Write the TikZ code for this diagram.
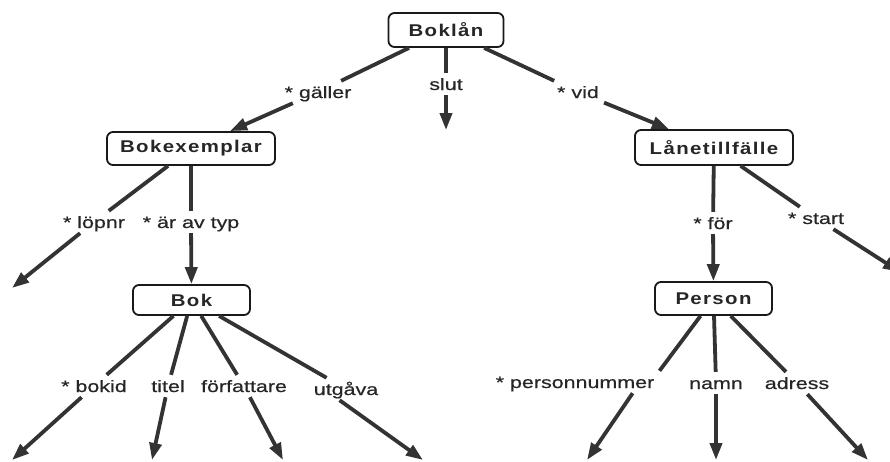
\documentclass[tikz,border=0pt]{standalone}
\usepackage{fontspec}
\setmainfont{Liberation Sans}[FakeStretch=1.3,FakeBold=0.5]
\newfontfamily\boxfont{Liberation Sans}[FakeStretch=1.2,LetterSpace=8]
\usetikzlibrary{arrows.meta}

\begin{document}
\begin{tikzpicture}[x=1pt,y=-1pt,
  entity/.style={draw=black!90, line width=1.8pt, rounded corners=6pt, fill=white,
    inner sep=0pt, text=black!85,
    font=\boxfont\bfseries\fontsize{17}{20}\selectfont},
  attr/.style={inner sep=5pt, text height=12pt, text depth=0pt, text=black!85,
    font=\fontsize{16.5}{19}\selectfont},
  link/.style={line width=3.8pt, draw=black!80},
  arrow/.style={link, -{Triangle[length=17pt,width=12pt]}},
]
\useasboundingbox (0,0) rectangle (890,461);

% entities
\node[entity, minimum width=115pt, minimum height=34pt] (boklan) at (446,30) {Boklån};
\node[entity, minimum width=168pt, minimum height=33pt] (bokex) at (191,148.5) {Bokexemplar};
\node[entity, minimum width=117pt, minimum height=30pt] (bok) at (191.5,300) {Bok};
\node[entity, minimum width=158pt, minimum height=35pt] (lane) at (714,147.5) {Lånetillfälle};
\node[entity, minimum width=117pt, minimum height=33pt] (person) at (713.5,298.5) {Person};

% attribute and relation labels
\node[attr] (gaeller) at (318,92) {* gäller};
\node[attr] (slut) at (446,84) {slut};
\node[attr] (vid) at (578,92) {* vid};
\node[attr] (lopnr) at (94,222) {* löpnr};
\node[attr] (arav) at (191,222) {* är av typ};
\node[attr] (bokid) at (94,386) {* bokid};
\node[attr] (titel) at (168,386) {titel};
\node[attr] (forf) at (244,386) {författare};
\node[attr] (utgava) at (346,389) {utgåva};
\node[attr] (for) at (713,223) {* för};
\node[attr] (start) at (816,218) {* start};
\node[attr] (pnr) at (575,382) {* personnummer};
\node[attr] (namn) at (716,383) {namn};
\node[attr] (adress) at (797,383) {adress};

% loose arrow ends
\coordinate (slutend) at (446,130);
\coordinate (lopnrend) at (12,288);
\coordinate (bokidend) at (12,460);
\coordinate (titelend) at (152,460);
\coordinate (forfend) at (283,460);
\coordinate (utgavaend) at (423,460);
\coordinate (startend) at (900,272);
\coordinate (pnrend) at (587,460);
\coordinate (namnend) at (716,460);
\coordinate (adressend) at (868,460);

% Boklån
\draw[link] (boklan) -- (gaeller);
\draw[arrow] (gaeller) -- (bokex);
\draw[link] (boklan) -- (slut);
\draw[arrow] (slut) -- (slutend);
\draw[link] (boklan) -- (vid);
\draw[arrow] (vid) -- (lane);

% Bokexemplar
\draw[link] (bokex) -- (lopnr);
\draw[arrow] (lopnr) -- (lopnrend);
\draw[link] (bokex) -- (arav);
\draw[arrow] (arav) -- (bok);

% Bok
\draw[link] (bok) -- (bokid);
\draw[arrow] (bokid) -- (bokidend);
\draw[link] (bok) -- (titel);
\draw[arrow] (titel) -- (titelend);
\draw[link] (bok) -- (forf);
\draw[arrow] (forf) -- (forfend);
\draw[link] (bok) -- (utgava);
\draw[arrow] (utgava.-120) -- (utgavaend);

% Lånetillfälle
\draw[link] (lane) -- (for);
\draw[arrow] (for) -- (person);
\draw[link] (lane) -- (start);
\draw[arrow] (start) -- (startend);

% Person
\draw[link] (person) -- (pnr.north east);
\draw[arrow] (pnr.-11) -- (pnrend);
\draw[link] (person) -- (namn);
\draw[arrow] (namn) -- (namnend);
\draw[link] (person) -- (adress);
\draw[arrow] (adress) -- (adressend);
\end{tikzpicture}
\end{document}
